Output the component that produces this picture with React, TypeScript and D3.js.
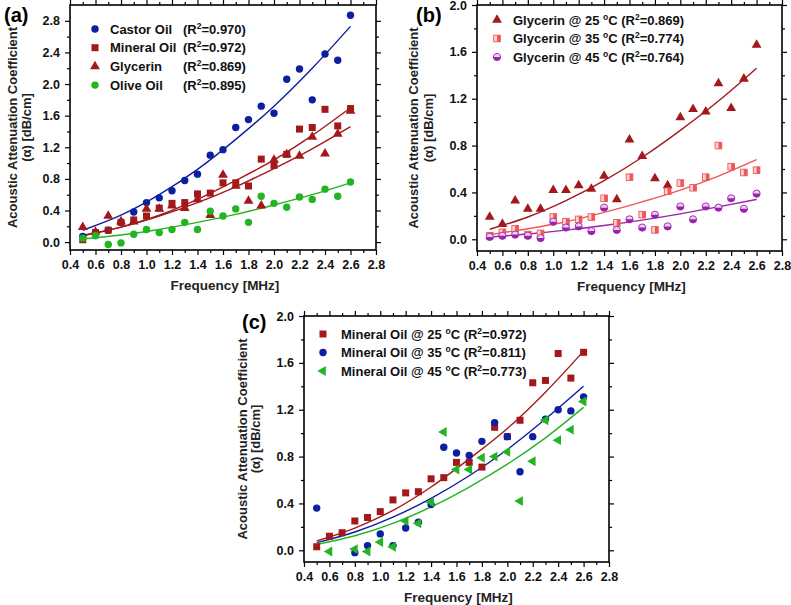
import React, { useEffect, useRef } from 'react';
import * as d3 from 'd3';

// frequencies [MHz] of the measured points
const freq = [0.5, 0.6, 0.7, 0.8, 0.9, 1.0, 1.1, 1.2, 1.3, 1.4, 1.5, 1.6, 1.7, 1.8, 1.9, 2.0, 2.1, 2.2, 2.3, 2.4, 2.5, 2.6];
const fitFreq = [0.5, 0.8, 1.1, 1.4, 1.7, 2.0, 2.3, 2.6];

const xTicks = [0.4, 0.6, 0.8, 1.0, 1.2, 1.4, 1.6, 1.8, 2.0, 2.2, 2.4, 2.6, 2.8];
const yTicksA = [0.0, 0.4, 0.8, 1.2, 1.6, 2.0, 2.4, 2.8];
const yTicksBC = [0.0, 0.4, 0.8, 1.2, 1.6, 2.0];

// (a) oils at 25 C
const castorOil = [0.07, 0.12, 0.15, 0.25, 0.38, 0.50, 0.56, 0.65, 0.78, 0.86, 1.10, 1.17, 1.45, 1.55, 1.72, 1.63, 2.06, 2.19, 1.80, 2.38, 2.30, 2.87];
const mineralOil25 = [0.03, 0.12, 0.15, 0.25, 0.28, 0.33, 0.43, 0.49, 0.50, 0.61, 0.62, 0.75, 0.75, 0.71, 1.05, 0.97, 1.11, 1.43, 1.45, 1.68, 1.47, 1.69];
const glycerin25 = [0.19, 0.13, 0.33, 0.26, 0.26, 0.42, 0.42, 0.46, 0.43, 0.54, 0.34, 0.85, 0.71, 0.52, 0.46, 1.04, 1.11, 1.09, 1.33, 1.12, 1.37, 1.66];
const oliveOil = [0.05, 0.08, -0.03, -0.01, 0.10, 0.16, 0.12, 0.16, 0.25, 0.16, 0.39, 0.33, 0.42, 0.25, 0.58, 0.49, 0.44, 0.57, 0.54, 0.67, 0.58, 0.76];

// (b) glycerin at 35 / 45 C
const glycerin35 = [0.03, 0.06, 0.09, 0.04, 0.05, 0.19, 0.15, 0.17, 0.19, 0.35, 0.14, 0.53, 0.21, 0.08, 0.41, 0.48, 0.44, 0.53, 0.80, 0.62, 0.57, 0.59];
const glycerin45 = [0.02, 0.03, 0.04, 0.03, 0.01, 0.15, 0.10, 0.11, 0.07, 0.27, 0.08, 0.17, 0.10, 0.21, 0.11, 0.28, 0.17, 0.28, 0.27, 0.35, 0.26, 0.39];

// (c) mineral oil at 35 / 45 C (null = no visible point)
const mineralOil35 = [0.36, null, null, -0.02, 0.04, 0.14, 0.04, 0.19, 0.24, 0.39, 0.88, 0.83, 0.81, 0.93, 1.09, 0.97, 0.67, 0.97, 1.12, 1.20, 1.19, 1.31];
const mineralOil45 = [null, -0.01, null, 0.01, -0.01, 0.07, 0.03, 0.25, 0.23, 0.41, 1.01, 0.69, 0.69, 0.79, 0.80, 0.84, 0.42, 0.76, 1.11, 0.94, 1.03, 1.27];

// fitted curves, read at fitFreq
const castorFit = [0.15, 0.34, 0.60, 0.92, 1.30, 1.72, 2.20, 2.73];
const mineral25Fit = [0.08, 0.19, 0.34, 0.54, 0.78, 1.04, 1.35, 1.70];
const glycerin25Fit = [0.086, 0.19, 0.33, 0.50, 0.70, 0.93, 1.18, 1.46];
const oliveFit = [0.04, 0.09, 0.16, 0.25, 0.35, 0.47, 0.60, 0.75];
const glycerin35Fit = [0.04, 0.09, 0.15, 0.23, 0.32, 0.42, 0.54, 0.68];
const glycerin45Fit = [0.02, 0.045, 0.078, 0.118, 0.164, 0.217, 0.277, 0.34];
const mineral35Fit = [0.065, 0.156, 0.283, 0.443, 0.636, 0.86, 1.12, 1.40];
const mineral45Fit = [0.05, 0.124, 0.23, 0.37, 0.54, 0.735, 0.96, 1.22];

const BLUE = '#0c1f9f';
const RED = '#a3191b';
const GREEN = '#22b422';
const SALMON = '#ee5757';
const PURPLE = '#9a22ad';
const FONT = '"Liberation Sans", Arial, sans-serif';

const panels = [
    {
        label: '(a)', labelPos: [4, 22],
        left: 70, top: 5, width: 306, height: 245, yMax: 3.0, yTicks: yTicksA, titleX: [58, 44],
        legend: { x: 95, y: 29, dy: 18.7, textX: 110, r2X: 183 },
        series: [
            { name: 'Castor Oil', r2: '0.970', values: castorOil, fit: castorFit, marker: 'circle', color: BLUE, line: BLUE },
            { name: 'Mineral Oil', r2: '0.972', values: mineralOil25, fit: mineral25Fit, marker: 'square', color: RED, line: RED },
            { name: 'Glycerin', r2: '0.869', values: glycerin25, fit: glycerin25Fit, marker: 'triangle', color: RED, line: RED },
            { name: 'Olive Oil', r2: '0.895', values: oliveOil, fit: oliveFit, marker: 'circle', color: GREEN, line: GREEN },
        ],
    },
    {
        label: '(b)', labelPos: [416, 22],
        left: 477, top: 5, width: 305, height: 246, yMax: 2.0, yTicks: yTicksBC, titleX: [64, 49],
        legend: { x: 497, y: 20, dy: 18.5, textX: 513 },
        series: [
            { name: 'Glycerin', temp: '25', r2: '0.869', values: glycerin25, fit: glycerin25Fit, marker: 'triangle', color: RED, line: RED },
            { name: 'Glycerin', temp: '35', r2: '0.774', values: glycerin35, fit: glycerin35Fit, marker: 'halfSquare', color: SALMON, line: SALMON },
            { name: 'Glycerin', temp: '45', r2: '0.764', values: glycerin45, fit: glycerin45Fit, marker: 'halfCircle', color: PURPLE, line: PURPLE },
        ],
    },
    {
        label: '(c)', labelPos: [242, 329],
        left: 304, top: 316, width: 305, height: 246, yMax: 2.0, yTicks: yTicksBC, titleX: [62, 49],
        legend: { x: 323, y: 334, dy: 18.5, textX: 341 },
        series: [
            { name: 'Mineral Oil', temp: '25', r2: '0.972', values: mineralOil25, fit: mineral25Fit, marker: 'square', color: RED, line: RED },
            { name: 'Mineral Oil', temp: '35', r2: '0.811', values: mineralOil35, fit: mineral35Fit, marker: 'circle', color: BLUE, line: BLUE },
            { name: 'Mineral Oil', temp: '45', r2: '0.773', values: mineralOil45, fit: mineral45Fit, marker: 'leftTriangle', color: GREEN, line: GREEN },
        ],
    },
];

const drawMarker = (g, type, color, cx, cy) => {
    const m = g.append('g').attr('transform', `translate(${cx},${cy})`);
    if (type === 'circle') {
        m.append('circle').attr('r', 3.7).attr('fill', color);
    } else if (type === 'square') {
        m.append('rect').attr('x', -3.5).attr('y', -3.5).attr('width', 7).attr('height', 7).attr('fill', color);
    } else if (type === 'triangle') {
        m.append('path').attr('d', d3.symbol(d3.symbolTriangle, 42)()).attr('fill', color);
    } else if (type === 'leftTriangle') {
        m.append('path').attr('d', d3.symbol(d3.symbolTriangle, 42)()).attr('transform', 'rotate(-90)').attr('fill', color);
    } else if (type === 'halfSquare') {
        m.append('rect').attr('x', -3.3).attr('y', -3.3).attr('width', 6.6).attr('height', 6.6)
            .attr('fill', '#fbd3d3').attr('stroke', color).attr('stroke-width', 0.9);
        m.append('rect').attr('x', 0).attr('y', -3.3).attr('width', 3.3).attr('height', 6.6).attr('fill', color);
    } else if (type === 'halfCircle') {
        m.append('circle').attr('r', 3.6).attr('fill', '#ecd0f0').attr('stroke', color).attr('stroke-width', 0.9);
        m.append('path').attr('d', 'M-3.6,0A3.6,3.6 0 0 0 3.6,0Z').attr('fill', color);
    }
};

// text with small raised parts (R^2, degree "o")
const addRichText = (t, parts) => {
    let raised = false;
    parts.forEach((p) => {
        const ts = t.append('tspan').text(p.t);
        if (p.sup) {
            ts.attr('dy', -5).attr('font-size', 8.5);
            raised = true;
        } else if (raised) {
            ts.attr('dy', 5);
            raised = false;
        }
    });
};

const drawPanel = (svg, p) => {
    const x = d3.scaleLinear().domain([0.4, 2.8]).range([p.left, p.left + p.width]);
    const y = d3.scaleLinear().domain([-0.1, p.yMax]).range([p.top + p.height, p.top]);
    const bottom = p.top + p.height;
    const right = p.left + p.width;
    const xMinor = d3.range(0.5, 2.8, 0.2);
    const yMinor = d3.range(0.2, p.yMax, 0.4);
    const fmt = d3.format('.1f');

    const styleAxis = (g) => {
        g.select('.domain').remove();
        g.selectAll('line').attr('stroke', '#000').attr('stroke-width', 1.2);
        g.selectAll('text').attr('font-family', FONT).attr('font-weight', 'bold').attr('font-size', 12.5).attr('fill', '#111');
    };

    // major ticks
    svg.append('g').attr('transform', `translate(0,${bottom})`)
        .call(d3.axisBottom(x).tickValues(xTicks).tickSize(5).tickPadding(5).tickFormat(fmt)).call(styleAxis);
    svg.append('g').attr('transform', `translate(0,${p.top})`)
        .call(d3.axisTop(x).tickValues(xTicks).tickSize(5).tickFormat(() => '')).call(styleAxis);
    svg.append('g').attr('transform', `translate(${p.left},0)`)
        .call(d3.axisLeft(y).tickValues(p.yTicks).tickSize(5).tickPadding(5).tickFormat(fmt)).call(styleAxis);
    svg.append('g').attr('transform', `translate(${right},0)`)
        .call(d3.axisRight(y).tickValues(p.yTicks).tickSize(5).tickFormat(() => '')).call(styleAxis);
    // minor ticks
    svg.append('g').attr('transform', `translate(0,${bottom})`)
        .call(d3.axisBottom(x).tickValues(xMinor).tickSize(3).tickFormat(() => '')).call(styleAxis);
    svg.append('g').attr('transform', `translate(0,${p.top})`)
        .call(d3.axisTop(x).tickValues(xMinor).tickSize(3).tickFormat(() => '')).call(styleAxis);
    svg.append('g').attr('transform', `translate(${p.left},0)`)
        .call(d3.axisLeft(y).tickValues(yMinor).tickSize(3).tickFormat(() => '')).call(styleAxis);
    svg.append('g').attr('transform', `translate(${right},0)`)
        .call(d3.axisRight(y).tickValues(yMinor).tickSize(3).tickFormat(() => '')).call(styleAxis);

    // frame
    svg.append('rect').attr('x', p.left).attr('y', p.top).attr('width', p.width).attr('height', p.height)
        .attr('fill', 'none').attr('stroke', '#000').attr('stroke-width', 1.6);

    // fit curves
    const line = d3.line().x((d) => x(d[0])).y((d) => y(d[1])).curve(d3.curveMonotoneX);
    p.series.forEach((s) => {
        svg.append('path').attr('d', line(fitFreq.map((f, i) => [f, s.fit[i]])))
            .attr('fill', 'none').attr('stroke', s.line).attr('stroke-width', 1.4);
    });

    // points
    p.series.forEach((s) => {
        const g = svg.append('g');
        s.values.forEach((v, i) => {
            if (v === null) return;
            drawMarker(g, s.marker, s.color, x(freq[i]), y(v));
        });
    });

    // legend
    const legendText = (lx, ly) => svg.append('text').attr('x', lx).attr('y', ly).attr('dy', '0.36em')
        .attr('font-family', FONT).attr('font-weight', 'bold').attr('font-size', 13).attr('fill', '#111');
    p.series.forEach((s, i) => {
        const ly = p.legend.y + i * p.legend.dy;
        drawMarker(svg, s.marker, s.color, p.legend.x, ly);
        if (s.temp) {
            addRichText(legendText(p.legend.textX, ly), [
                { t: `${s.name} @ ${s.temp} ` }, { t: 'o', sup: true }, { t: 'C (R' }, { t: '2', sup: true }, { t: `=${s.r2})` },
            ]);
        } else {
            legendText(p.legend.textX, ly).text(s.name);
            addRichText(legendText(p.legend.r2X, ly), [{ t: '(R' }, { t: '2', sup: true }, { t: `=${s.r2})` }]);
        }
    });

    // axis titles
    const cx = (p.left + right) / 2;
    svg.append('text').attr('x', cx + 2).attr('y', bottom + 40)
        .attr('text-anchor', 'middle').attr('font-family', FONT).attr('font-weight', 'bold').attr('font-size', 13.5)
        .attr('fill', '#222').text('Frequency [MHz]');
    const cy = (p.top + bottom) / 2;
    svg.append('text').attr('transform', `translate(${p.left - p.titleX[0]},${cy}) rotate(-90)`)
        .attr('text-anchor', 'middle').attr('dy', '0.36em').attr('font-family', FONT).attr('font-weight', 'bold')
        .attr('font-size', 13).attr('fill', '#222').text('Acoustic Attenuation Coefficient');
    svg.append('text').attr('transform', `translate(${p.left - p.titleX[1]},${cy}) rotate(-90)`)
        .attr('text-anchor', 'middle').attr('dy', '0.36em').attr('font-family', FONT).attr('font-weight', 'bold')
        .attr('font-size', 13).attr('fill', '#222').text('(\u03b1) [dB/cm]');

    // panel label
    svg.append('text').attr('x', p.labelPos[0]).attr('y', p.labelPos[1])
        .attr('font-family', FONT).attr('font-weight', 'bold').attr('font-size', 20).attr('fill', '#000').text(p.label);
};

export default function App() {
    const svgRef = useRef(null);

    useEffect(() => {
        const svg = d3.select(svgRef.current);
        svg.selectAll('*').remove();
        panels.forEach((p) => drawPanel(svg, p));
    }, []);

    return (
        <svg
            ref={svgRef}
            width={791}
            height={605}
            style={{ position: 'absolute', left: 0, top: 0, background: '#fff' }}
        />
    );
}
